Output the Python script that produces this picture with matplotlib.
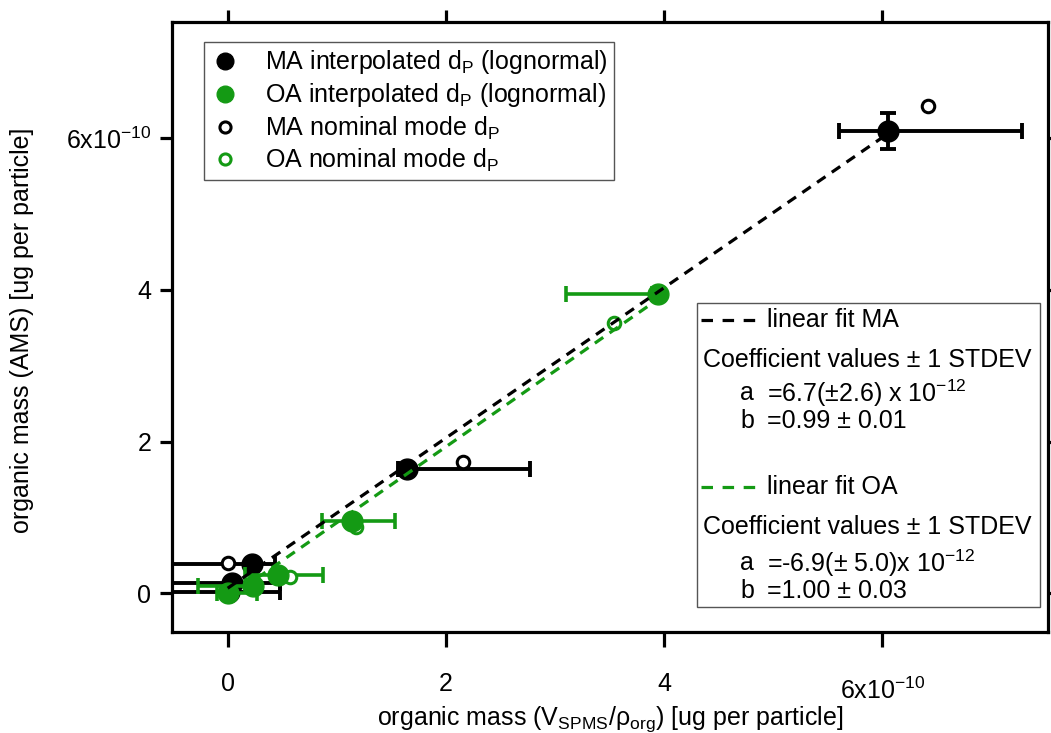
import numpy as np
import matplotlib.pyplot as plt
from matplotlib.lines import Line2D
from matplotlib.patches import Rectangle
from matplotlib.transforms import ScaledTranslation

plt.rcParams["font.family"] = ["Liberation Sans", "DejaVu Sans"]
plt.rcParams["mathtext.fontset"] = "custom"
plt.rcParams["mathtext.rm"] = "Liberation Sans"
plt.rcParams["mathtext.it"] = "Liberation Sans:italic"

# values in units of 1e-10 ug per particle
ma_x = [6.05, 1.64, 0.22, 0.04, 0.01]
ma_y = [6.09, 1.64, 0.39, 0.13, 0.02]
ma_xerr_lo = [0.45, 0.08, 0.75, 0.70, 0.70]
ma_xerr_hi = [1.23, 1.13, 0.21, 0.44, 0.47]
ma_yerr = [0.24, 0.0, 0.0, 0.0, 0.0]

oa_x = [3.94, 1.14, 0.46, 0.23, 0.00]
oa_y = [3.94, 0.95, 0.24, 0.09, 0.00]
oa_xerr_lo = [0.84, 0.28, 0.30, 0.50, 0.10]
oa_xerr_hi = [0.05, 0.39, 0.41, 0.05, 0.27]
oa_yerr = [0.08, 0.05, 0.0, 0.0, 0.0]

ma_nom_x = [6.42, 2.16, 0.00]
ma_nom_y = [6.42, 1.73, 0.40]
oa_nom_x = [3.54, 1.18, 0.57]
oa_nom_y = [3.56, 0.87, 0.21]

# linear fit coefficients (a in 1e-10 units)
fit_ma = (0.067, 0.99, 0.0, 6.05)
fit_oa = (-0.069, 1.00, 0.0, 3.94)

ticks = [0, 2, 4, 6]
tick_labels = ["0", "2", "4", r"6x10$^{\mathregular{-10}}$"]

green = "#149a14"
fs = 18

fig = plt.figure(figsize=(10.51, 7.33), dpi=100)
ax = fig.add_axes([0.1637, 0.1378, 0.8335, 0.8322])

ax.errorbar(ma_x, ma_y, xerr=[ma_xerr_lo, ma_xerr_hi], yerr=ma_yerr, fmt="o",
            color="black", ms=15, elinewidth=2.8, capsize=6, capthick=2.8, zorder=2)
ax.plot(ma_nom_x, ma_nom_y, "o", mfc="white", mec="black", ms=9, mew=2.2, zorder=2)
ax.errorbar(oa_x, oa_y, xerr=[oa_xerr_lo, oa_xerr_hi], yerr=oa_yerr, fmt="o",
            color=green, ms=15, elinewidth=2.6, capsize=6, capthick=2.6, zorder=3)
ax.plot(oa_nom_x, oa_nom_y, "o", mfc="white", mec=green, ms=9, mew=2.2, zorder=3)

for (a, b, x0, x1), c in [(fit_ma, "black"), (fit_oa, green)]:
    xx = np.array([x0, x1])
    ax.plot(xx, a + b * xx, color=c, lw=2.3, dashes=[3.2, 2.4], zorder=4)

ax.set_xlim(-0.51, 7.52)
ax.set_ylim(-0.51, 7.53)
ax.set_xticks(ticks)
ax.set_xticklabels(tick_labels)
ax.set_yticks(ticks)
ax.set_yticklabels(tick_labels)
for s in ax.spines.values():
    s.set_linewidth(2.3)
ax.tick_params(axis="x", which="both", direction="out", length=11, width=2.3,
               top=True, labelsize=fs, pad=18)
ax.tick_params(axis="y", which="both", direction="out", length=9, width=2.3,
               right=True, labelsize=fs, pad=6)
for t in ax.xaxis.get_major_ticks():
    t.tick2line.set_markersize(9)
# Igor puts the exponent label a bit lower on the x axis
lab6 = ax.get_xticklabels()[-1]
lab6.set_transform(lab6.get_transform() + ScaledTranslation(0, -4 / 72, fig.dpi_scale_trans))

ax.set_xlabel(r"organic mass (V$_{\mathregular{SPMS}}$/ρ$_{\mathregular{org}}$) [ug per particle]",
              fontsize=fs)
ax.xaxis.set_label_coords(0.5, -0.118)
ax.set_ylabel("organic mass (AMS) [ug per particle]", fontsize=fs)
ax.yaxis.set_label_coords(-0.158, 0.495)

handles = [
    Line2D([], [], ls="", marker="o", color="black", ms=12),
    Line2D([], [], ls="", marker="o", color=green, ms=12),
    Line2D([], [], ls="", marker="o", mfc="white", mec="black", ms=8, mew=2.2),
    Line2D([], [], ls="", marker="o", mfc="white", mec=green, ms=8, mew=2.2),
]
labels = [
    r"MA interpolated d$_{\mathregular{P}}$ (lognormal)",
    r"OA interpolated d$_{\mathregular{P}}$ (lognormal)",
    r"MA nominal mode d$_{\mathregular{P}}$",
    r"OA nominal mode d$_{\mathregular{P}}$",
]
leg = ax.legend(handles, labels, loc="upper left", bbox_to_anchor=(0.0365, 0.967),
                borderaxespad=0, fontsize=fs, labelspacing=0.2, handletextpad=1.0,
                fancybox=False, framealpha=1, edgecolor="#555555", borderpad=0.25,
                handlelength=1.2)
leg.get_frame().set_linewidth(1)

# fit annotation box
ax.add_patch(Rectangle((0.599, 0.041), 0.392, 0.498, transform=ax.transAxes,
                       fill=True, facecolor="white", edgecolor="#555555", lw=1, zorder=5))


def fx(px):
    return (px - 172) / 876


def fy(py):
    return (632 - py) / 610


box_lines = [
    ("black", 320, "linear fit MA", None),
    (None, 360, "Coefficient values ± 1 STDEV", None),
    (None, 393, "a", r"=6.7(±2.6) x 10$^{\mathregular{-12}}$"),
    (None, 421, "b", "=0.99 ± 0.01"),
    (green, 487, "linear fit OA", None),
    (None, 527, "Coefficient values ± 1 STDEV", None),
    (None, 563, "a", r"=-6.9(± 5.0)x 10$^{\mathregular{-12}}$"),
    (None, 591, "b", "=1.00 ± 0.03"),
]
for c, py, t1, t2 in box_lines:
    if c is not None:
        ax.plot([fx(701), fx(758)], [fy(py), fy(py)], transform=ax.transAxes,
                color=c, lw=2.3, dashes=[3.6, 3.0], zorder=6, clip_on=False)
        ax.text(fx(767), fy(py), t1, transform=ax.transAxes, fontsize=fs,
                va="center", ha="left", zorder=6)
    elif t2 is None:
        ax.text(fx(703), fy(py), t1, transform=ax.transAxes, fontsize=fs,
                va="center", ha="left", zorder=6)
    else:
        ax.text(fx(740), fy(py), t1, transform=ax.transAxes, fontsize=fs,
                va="center", ha="left", zorder=6)
        ax.text(fx(767), fy(py), t2, transform=ax.transAxes, fontsize=fs,
                va="center", ha="left", zorder=6)

fig.savefig("out.png", dpi=100)
